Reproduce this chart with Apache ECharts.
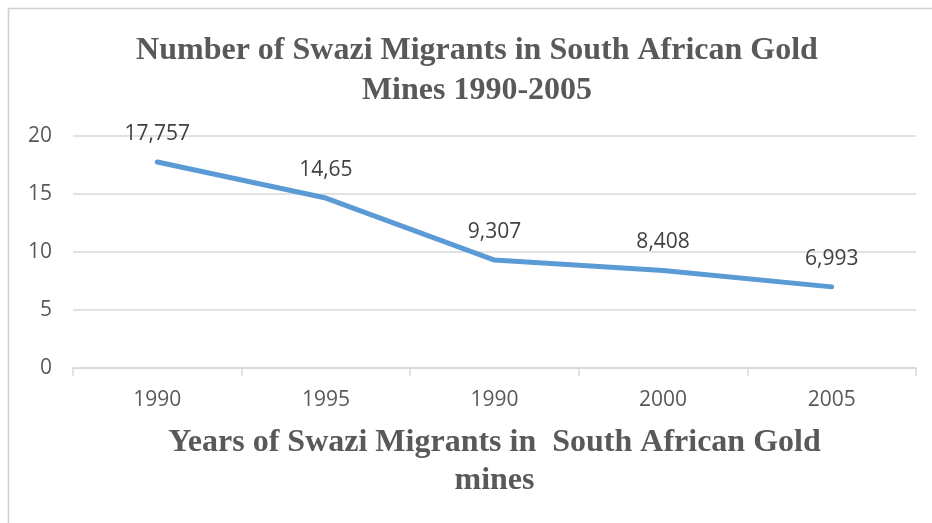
<!DOCTYPE html>
<html>
<head>
<meta charset="utf-8">
<script src="https://cdn.jsdelivr.net/npm/echarts@6/dist/echarts.min.js"></script>
<style>
  html, body { margin: 0; padding: 0; background: #fff; overflow: hidden; }
  #main { width: 932px; height: 523px; }
</style>
</head>
<body>
<div id="main"></div>
<script>
// data
var years = ['1990', '1995', '1990', '2000', '2005'];
var migrants = [17.757, 14.65, 9.307, 8.408, 6.993];
var yTicks = [0, 5, 10, 15, 20];

var chartDom = document.getElementById('main');
var myChart = echarts.init(chartDom);
var option;

option = {
  backgroundColor: '#fff',
  animation: false,
  graphic: [
    {
      type: 'rect',
      shape: { x: 8.5, y: 8.5, width: 940, height: 540 },
      style: { fill: 'none', stroke: '#d0d0d0', lineWidth: 1.5 },
      silent: true
    }
  ],
  title: {
    text: 'Number of Swazi Migrants in South African Gold\nMines 1990-2005',
    // centred on x = 477 (left + padding)
    left: 472,
    top: 26,
    textAlign: 'center',
    textStyle: {
      fontFamily: '"Liberation Serif", "Times New Roman", serif',
      fontWeight: 'bold',
      fontSize: 32,
      lineHeight: 40,
      color: '#595959'
    }
  },
  grid: {
    left: 73,
    right: 16,
    top: 136,
    bottom: 155,
    outerBoundsMode: 'none'
  },
  xAxis: {
    type: 'category',
    data: years,
    boundaryGap: true,
    name: 'Years of Swazi Migrants in  South African Gold\nmines',
    nameLocation: 'middle',
    nameGap: 56,
    nameTextStyle: {
      fontFamily: '"Liberation Serif", "Times New Roman", serif',
      fontWeight: 'bold',
      fontSize: 32,
      lineHeight: 38,
      color: '#595959'
    },
    axisLine: { show: true, lineStyle: { color: '#d9d9d9', width: 1.5 } },
    axisTick: { show: true, length: 8, lineStyle: { color: '#d9d9d9', width: 1.5 } },
    axisLabel: {
      margin: 22,
      fontFamily: '"Open Sans", sans-serif',
      fontSize: 21,
      color: '#595959'
    }
  },
  yAxis: {
    type: 'value',
    min: yTicks[0],
    max: yTicks[yTicks.length - 1],
    interval: 5,
    axisLine: { show: false },
    axisTick: { show: false },
    splitLine: { lineStyle: { color: '#d9d9d9', width: 1.5 } },
    axisLabel: {
      margin: 21,
      fontFamily: '"Open Sans", sans-serif',
      fontSize: 21,
      color: '#595959'
    }
  },
  series: [
    {
      name: 'Migrants',
      type: 'line',
      data: migrants,
      symbol: 'circle',
      symbolSize: 1,
      showSymbol: true,
      itemStyle: { color: '#5b9bd5' },
      lineStyle: { color: '#5b9bd5', width: 5, cap: 'round', join: 'round' },
      label: {
        show: true,
        position: 'top',
        distance: 17,
        fontFamily: '"Open Sans", sans-serif',
        fontSize: 21,
        color: '#404040',
        formatter: function (p) {
          return String(p.value).replace('.', ',');
        }
      }
    }
  ]
};

option && myChart.setOption(option);

window.onresize = function() {
  myChart.resize();
};
</script>
</body>
</html>
